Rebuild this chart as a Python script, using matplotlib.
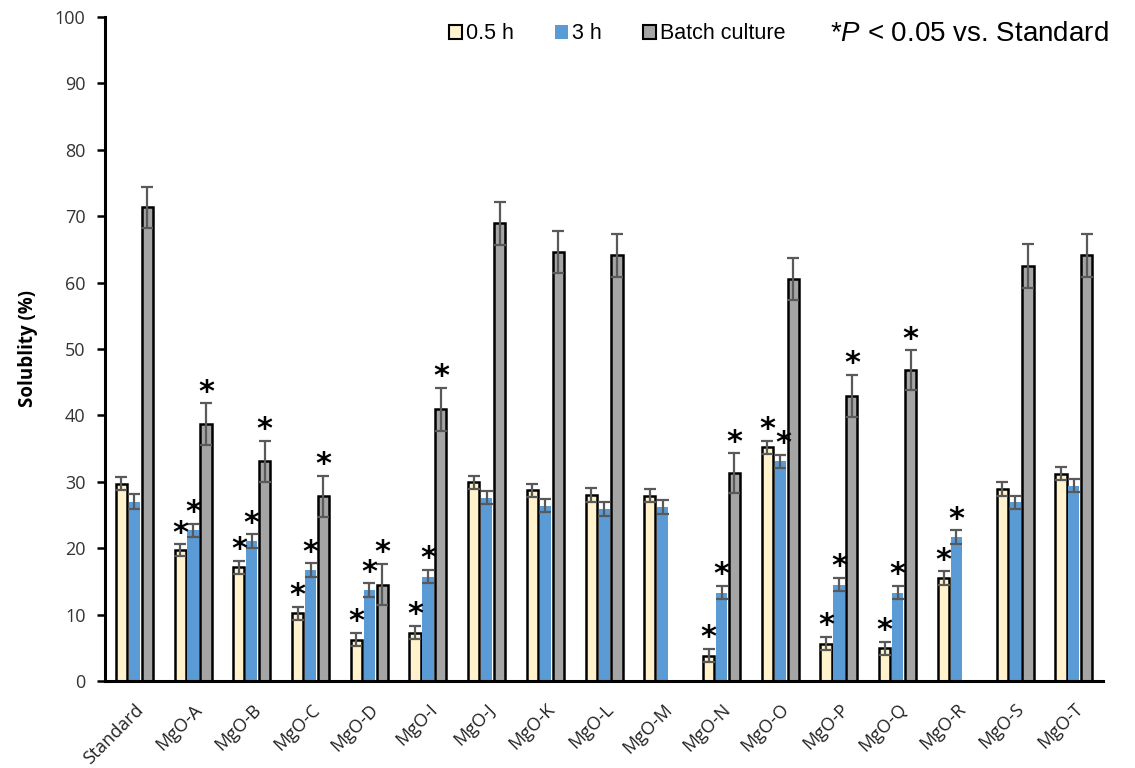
import numpy as np
import matplotlib
matplotlib.use("Agg")
import matplotlib.pyplot as plt
from matplotlib.patches import Patch

plt.rcParams['mathtext.fontset'] = 'custom'
plt.rcParams['mathtext.rm'] = 'Liberation Sans'
plt.rcParams['mathtext.it'] = 'Liberation Sans:italic'

categories = ["Standard", "MgO-A", "MgO-B", "MgO-C", "MgO-D", "MgO-I", "MgO-J",
              "MgO-K", "MgO-L", "MgO-M", "MgO-N", "MgO-O", "MgO-P", "MgO-Q",
              "MgO-R", "MgO-S", "MgO-T"]

sol_05h = [29.7, 19.7, 17.1, 10.2, 6.2, 7.3, 29.9, 28.7, 28.0, 27.9, 3.8, 35.2, 5.6, 4.9, 15.5, 28.9, 31.2]
err_05h = [1.0, 0.9, 1.0, 1.0, 1.0, 1.0, 1.0, 1.0, 1.0, 1.0, 1.0, 1.0, 1.0, 1.0, 1.0, 1.0, 1.0]
sol_3h = [27.0, 22.7, 21.1, 16.7, 13.7, 15.7, 27.6, 26.4, 25.9, 26.2, 13.3, 33.1, 14.5, 13.3, 21.7, 26.9, 29.4]
err_3h = [1.1, 1.0, 1.0, 1.0, 1.0, 1.0, 1.0, 1.0, 1.0, 1.0, 1.0, 1.0, 1.0, 1.0, 1.0, 1.0, 1.0]
# Batch culture was not run for MgO-M and MgO-R
sol_batch = [71.3, 38.7, 33.1, 27.8, 14.5, 40.9, 68.9, 64.6, 64.1, np.nan, 31.3, 60.5, 42.9, 46.8, np.nan, 62.5, 64.1]
err_batch = [3.1, 3.1, 3.1, 3.1, 3.1, 3.2, 3.2, 3.1, 3.2, np.nan, 3.0, 3.2, 3.2, 3.0, np.nan, 3.3, 3.2]

# significance flags (P < 0.05 vs. Standard)
sig_05h = [0, 1, 1, 1, 1, 1, 0, 0, 0, 0, 1, 1, 1, 1, 1, 0, 0]
sig_3h = [0, 1, 1, 1, 1, 1, 0, 0, 0, 0, 1, 1, 1, 1, 1, 0, 0]
sig_batch = [0, 1, 1, 1, 1, 1, 0, 0, 0, 0, 1, 0, 1, 1, 0, 0, 0]

series_labels = ["0.5 h", "3 h", "Batch culture"]

fig = plt.figure(figsize=(11.35, 7.68), dpi=100)
ax = fig.add_axes([0.0925, 0.1133, 0.8795, 0.8647])

x = np.arange(len(categories))
w = 0.19
step = 0.22

ekw = dict(ecolor="#595959", elinewidth=1.6, capsize=4, capthick=1.6)

ax.bar(x - step, sol_05h, w, color="#FFF2CC", edgecolor="black", linewidth=1.8,
       yerr=err_05h, error_kw=ekw, zorder=2)
ax.bar(x, sol_3h, w, color="#5B9BD5", edgecolor="none",
       yerr=err_3h, error_kw=ekw, zorder=2)
ax.bar(x + step, sol_batch, w, color="#A5A5A5", edgecolor="black", linewidth=1.8,
       yerr=err_batch, error_kw=ekw, zorder=2)

# asterisks above the error caps
star_kw = dict(ha="center", va="bottom", fontsize=22, fontweight="bold",
               family="DejaVu Sans", zorder=4)
off = -0.5
for i in range(len(categories)):
    if sig_05h[i]:
        ax.text(x[i] - step, sol_05h[i] + err_05h[i] + off, "*", **star_kw)
    if sig_3h[i]:
        dx = 0.06 if categories[i] == "MgO-O" else 0.0
        ax.text(x[i] + dx, sol_3h[i] + err_3h[i] + off, "*", **star_kw)
    if sig_batch[i]:
        ax.text(x[i] + step, sol_batch[i] + err_batch[i] + off, "*", **star_kw)

ax.set_xlim(-0.5, len(categories) - 0.5)
ax.set_ylim(0, 100)
ax.set_yticks(np.arange(0, 101, 10))
ax.tick_params(axis="y", direction="out", length=6, width=1.8, labelsize=13, pad=8,
               labelcolor="#333333")
ax.tick_params(axis="x", length=0, pad=14)
for lab in ax.get_yticklabels():
    lab.set_family("Open Sans")

ax.set_xticks(x)
ax.set_xticklabels(categories, rotation=45, ha="right", rotation_mode="anchor",
                   fontsize=13, family="Open Sans", color="#222222")

for s in ["top", "right"]:
    ax.spines[s].set_visible(False)
for s in ["left", "bottom"]:
    ax.spines[s].set_linewidth(2.2)

ax.set_ylabel("Solublity (%)", fontsize=13.5, fontweight="bold", family="Open Sans",
              labelpad=12)

handles = [Patch(facecolor="#FFF2CC", edgecolor="black", linewidth=1.5),
           Patch(facecolor="#5B9BD5", edgecolor="none"),
           Patch(facecolor="#A5A5A5", edgecolor="black", linewidth=1.5)]
fig.legend(handles, series_labels, loc="center", bbox_to_anchor=(0.544, 0.956), ncol=3,
           frameon=False, prop={"family": "Liberation Sans", "size": 15.5},
           handlelength=0.6, handleheight=0.6, handletextpad=0.2, columnspacing=1.9)

fig.text(0.731, 0.956, r"*$\it{P}$ < 0.05 vs. Standard", ha="left", va="center",
         fontsize=20, family="Liberation Sans")

fig.savefig("out.png", dpi=100)
